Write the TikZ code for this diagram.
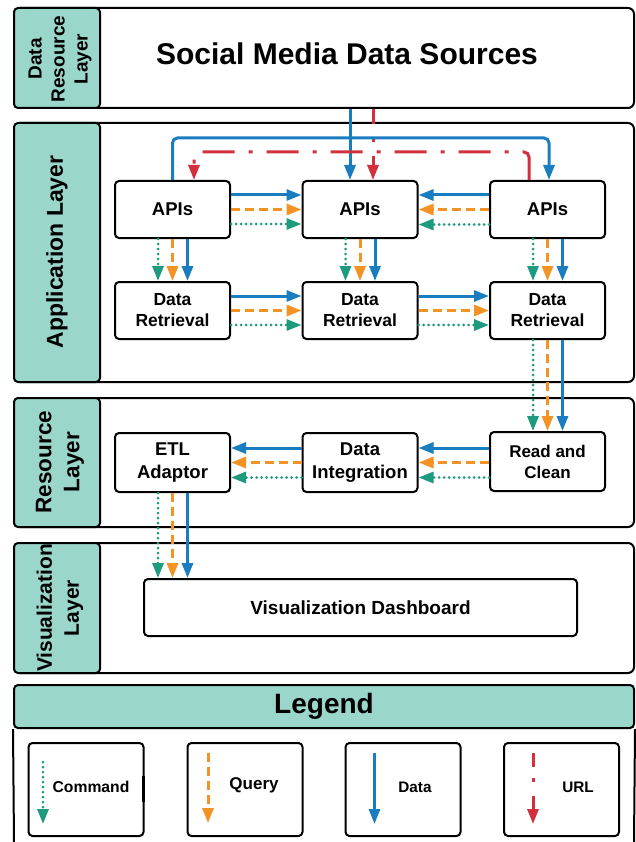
\documentclass[tikz,border=0pt]{standalone}
\usepackage{fontspec}
\setmainfont{Liberation Sans}
\usetikzlibrary{arrows.meta}
\definecolor{tealfill}{HTML}{9BD6CB}
\definecolor{cblue}{HTML}{1A7DC0}
\definecolor{corange}{HTML}{F39325}
\definecolor{cgreen}{HTML}{1E9A7E}
\definecolor{cred}{HTML}{D1303C}
\newcommand\myfs[2]{\fontsize{#1}{#2}\selectfont\bfseries}
\begin{document}
\begin{tikzpicture}[x=1pt,y=-1pt,
  band/.style={draw, line width=2pt, rounded corners=6pt, minimum width=620pt, inner sep=0pt},
  lab/.style={draw, line width=2pt, rounded corners=4pt, fill=tealfill, minimum width=86pt, inner sep=0pt},
  labtext/.style={rotate=90, align=center, inner sep=0pt},
  box/.style={draw, line width=2pt, rounded corners=4pt, fill=white, minimum width=115pt, minimum height=57pt, align=center, inner sep=0pt},
  lbox/.style={draw, line width=2pt, rounded corners=4pt, fill=white, minimum width=115pt, minimum height=93pt, inner sep=0pt},
  arr/.style={line width=3pt, -{Triangle[length=15pt,width=11pt]}},
  data/.style={arr, draw=cblue},
  query/.style={arr, draw=corange, dash pattern=on 9pt off 5pt},
  command/.style={arr, draw=cgreen, line cap=round, dash pattern=on 0pt off 5pt},
  url/.style={arr, draw=cred, dash pattern=on 32pt off 14pt on 4pt off 14pt}
]
\useasboundingbox (0,0) rectangle (635,842);

% ---- bands
\node[band, minimum height=100pt] (b1) at (324,58) {};
\node[band, minimum height=259pt] (b2) at (324,252.5) {};
\node[band, minimum height=129pt] (b3) at (324,462.5) {};
\node[band, minimum height=130pt] (b4) at (324,608) {};

\node[lab, minimum height=100pt] (l1) at (57,58) {};
\node[lab, minimum height=259pt] (l2) at (57,252.5) {};
\node[lab, minimum height=129pt] (l3) at (57,462.5) {};
\node[lab, minimum height=130pt] (l4) at (57,608) {};

\node[labtext, font=\myfs{19}{23}] (t1) at (60,59) {Data\\Resource\\Layer};
\node[labtext, font=\myfs{23}{27}] (t2) at (57,252) {Application Layer};
\node[labtext, font=\myfs{22.5}{28}] (t3) at (60,462) {Resource\\Layer};
\node[labtext, font=\myfs{21}{27}] (t4) at (60,608) {Visualization\\Layer};

\node[font=\myfs{30}{34}] (title) at (347,54) {Social Media Data Sources};

% ---- boxes
\node[box, font=\myfs{18.5}{22}] (api1) at (172.5,209.5) {APIs};
\node[box, font=\myfs{18.5}{22}] (api2) at (360,209.5) {APIs};
\node[box, font=\myfs{18.5}{22}] (api3) at (547.5,209.5) {APIs};
\node[box, font=\myfs{17.5}{21}] (dr1) at (172.5,310.5) {Data\\Retrieval};
\node[box, font=\myfs{17.5}{21}] (dr2) at (360,310.5) {Data\\Retrieval};
\node[box, font=\myfs{17.5}{21}] (dr3) at (547.5,310.5) {Data\\Retrieval};
\node[box, minimum height=59pt, font=\myfs{18.5}{23}] (etl) at (172.5,462.5) {ETL\\Adaptor};
\node[box, minimum height=59pt, font=\myfs{18.5}{23}] (di) at (360,462.5) {Data\\Integration};
\node[box, minimum height=59pt, font=\myfs{17}{21}] (rc) at (547.5,461.5) {Read and\\Clean};
\node[box, minimum width=433pt, font=\myfs{19}{22}] (dash) at (360.5,607.5) {Visualization Dashboard};

% ---- top connectors
\coordinate (yb) at (0,138);
\coordinate (yr) at (0,152);
\draw[data] ([xshift=-10pt]api2.north |- b1.south) -- ([xshift=-10pt]api2.north);
\draw[url, dash phase=17pt] ([xshift=13pt]api2.north |- b1.south) -- ([xshift=13pt]api2.north);
\draw[data, rounded corners=5pt] (api1.north) -- (api1.north |- yb) -- ([xshift=1.5pt]api3.north |- yb) -- ([xshift=1.5pt]api3.north);
\draw[url, rounded corners=5pt] ([xshift=-18.5pt]api3.north) -- ([xshift=-18.5pt]api3.north |- yr) -- ([xshift=21.5pt]api1.north |- yr) -- ([xshift=21.5pt]api1.north);

% ---- horizontal
\foreach \a/\b in {api1/api2, dr1/dr2, dr2/dr3} {
  \draw[data] ([yshift=14.5pt]\a.east) -- ([yshift=14.5pt]\b.west);
  \draw[query] (\a.east) -- (\b.west);
  \draw[command] ([yshift=-14.5pt]\a.east) -- ([yshift=-14.5pt]\b.west);
}
\foreach \a/\b in {api3/api2, rc/di, di/etl} {
  \draw[data] ([yshift=14.5pt]\a.west |- \b.center) -- ([yshift=14.5pt]\b.east);
  \draw[query] (\a.west |- \b.center) -- (\b.east);
  \draw[command] ([yshift=-15pt]\a.west |- \b.center) -- ([yshift=-15pt]\b.east);
}

% ---- vertical
\foreach \a/\b in {api1/dr1, api2/dr2, api3/dr3, dr3/rc} {
  \draw[command] ([xshift=-14.5pt]\a.south) -- ([xshift=-14.5pt]\b.north);
  \draw[query] (\a.south) -- (\b.north);
  \draw[data] ([xshift=15pt]\a.south) -- ([xshift=15pt]\b.north);
}
\draw[command] ([xshift=-14.5pt]etl.south) -- ([xshift=-14.5pt]etl.south |- dash.north);
\draw[query] (etl.south) -- (etl.south |- dash.north);
\draw[data] ([xshift=15pt]etl.south) -- ([xshift=15pt]etl.south |- dash.north);

% ---- legend
\node[draw, line width=2pt, rounded corners=4pt, fill=tealfill, minimum width=620pt, minimum height=43pt, inner sep=0pt, font=\myfs{28}{30}] (lghead) at (324,706.5) {Legend};
\coordinate (lgbl) at (14,842);
\coordinate (lgbr) at (634,842);
\draw[line width=2pt] (lghead.south west) -- (lgbl);
\draw[line width=2pt] (lghead.south east) -- (lgbr);

\node[lbox] (lcmd) at (86,789.5) {};
\node[lbox] (lqry) at (245,789.5) {};
\node[lbox] (ldat) at (403,789.5) {};
\node[lbox] (lurl) at (561.5,789.5) {};
\draw[line width=2.5pt] ([xshift=-1pt,yshift=13.5pt]lcmd.east) -- ([xshift=-1pt,yshift=-12.5pt]lcmd.east);

\node[font=\myfs{15.7}{18}] (tcmd) at (91,787) {Command};
\node[font=\myfs{17}{19}] (tqry) at (254,785) {Query};
\node[font=\myfs{15.3}{18}] (tdat) at (415,787) {Data};
\node[font=\myfs{15.3}{18}] (turl) at (578,787) {URL};

\coordinate (c1) at (43,762);   \coordinate (c2) at (43,824);
\coordinate (q1) at (208,753);  \coordinate (q2) at (208,823);
\coordinate (d1) at (374.5,753); \coordinate (d2) at (374.5,824);
\coordinate (u1) at (533,753);  \coordinate (u2) at (533,824);
\draw[command] (c1) -- (c2);
\draw[query] (q1) -- (q2);
\draw[data] (d1) -- (d2);
\draw[url, dash pattern=on 14pt off 11pt on 4pt off 14pt] (u1) -- (u2);
\end{tikzpicture}
\end{document}
